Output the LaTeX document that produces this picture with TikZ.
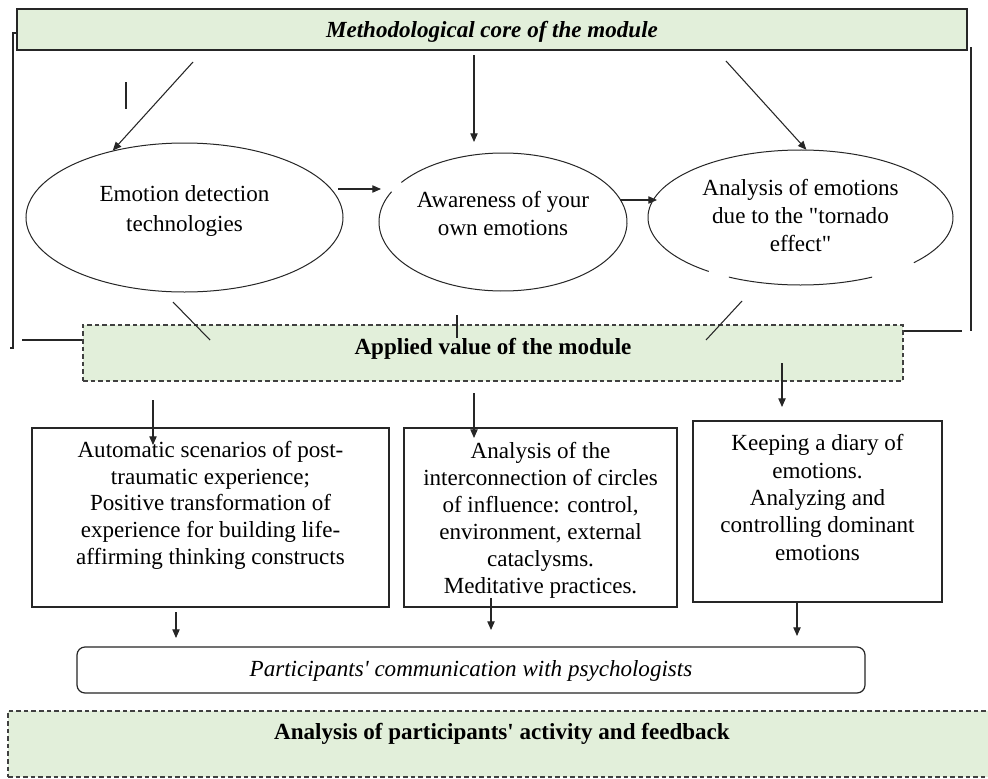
\documentclass[tikz,border=0pt]{standalone}
\usepackage{fontspec}
\setmainfont{Liberation Serif}[Ligatures=TeXOff]
\usetikzlibrary{arrows.meta,shapes.geometric}
\definecolor{panelgreen}{HTML}{E2EFDA}

% centred multi-line text; #3 is extra space below that lifts the block
\newcommand{\cardtext}[4]{\parbox{#1}{\centering\fontsize{17.3}{#2}\selectfont #4\par\vspace*{#3}}}
% same, but takes no width so the oval keeps its own size
\newcommand{\ovaltext}[4]{\makebox[0pt]{\cardtext{#1}{#2}{#3}{#4}}}

\begin{document}
\begin{tikzpicture}[x=0.75pt,y=-0.75pt,
  every node/.style={font=\fontsize{17.3}{20.3}\selectfont, text=black},
  wire/.style={draw=black!85, line width=0.8pt},
  arrowwire/.style={wire, -{Triangle[length=6.5pt,width=5.5pt]}},
  greenpanel/.style={draw=black!85, fill=panelgreen, line width=1.1pt, inner sep=0pt},
  dashedpanel/.style={draw=black!75, fill=panelgreen, line width=0.8pt,
    dash pattern=on 3.5pt off 2.2pt, inner sep=0pt},
  oval/.style={ellipse, inner sep=0pt},
  card/.style={draw=black!85, line width=0.9pt, inner sep=0pt}]

\fill[white] (0,0) rectangle (988,778);
\useasboundingbox (0,0) rectangle (988,778);

% ---- header panel ----
\node[greenpanel, minimum width=712.5pt, minimum height=30.75pt,
  text height=12pt, text depth=0pt,
  font=\fontsize{17.3}{20.3}\selectfont\bfseries\itshape] (core) at (492,29.5)
  {Methodological core of the module};

% ---- the three ovals ----
\node[oval, draw=black!85, line width=0.75pt, minimum width=237.75pt, minimum height=111.75pt]
  (e1) at (184.5,217.5) {\ovaltext{200pt}{22.5pt}{10.5pt}{Emotion detection\\technologies}};
\node[oval, minimum width=186pt, minimum height=103.5pt]
  (e2) at (503,222) {\ovaltext{180pt}{20.3pt}{12.75pt}{Awareness of your\\own emotions}};
\node[oval, minimum width=228.75pt, minimum height=101.25pt]
  (e3) at (800.5,217.5) {\ovaltext{200pt}{21pt}{3pt}{Analysis of emotions\\due to the "tornado\\effect"}};

% broken outlines of the second and third ovals
\draw[wire, line width=0.75pt] (e2.center) ++(215:124 and 69)
  arc[start angle=215, end angle=566, x radius=124, y radius=69];
\draw[wire, line width=0.75pt] (e3.center) ++(127:152.5 and 67.5)
  arc[start angle=127, end angle=402, x radius=152.5, y radius=67.5];
\draw[wire, line width=0.75pt] (e3.center) ++(62:152.5 and 67.5)
  arc[start angle=62, end angle=118, x radius=152.5, y radius=67.5];

% ---- applied value panel ----
\node[dashedpanel, minimum width=615pt, minimum height=42pt,
  text height=12pt, text depth=9.8pt,
  font=\fontsize{17.3}{20.3}\selectfont\bfseries] (applied) at (493,353)
  {Applied value of the module};

% ---- the three cards ----
\node[card, minimum width=267.75pt, minimum height=134.25pt] (cardA) at (210.5,517.5)
  {\cardtext{255pt}{20.1pt}{18.5pt}{Automatic scenarios of post-\\traumatic experience;\\Positive transformation of\\experience for building life-\\affirming thinking constructs}};
\node[card, minimum width=204.75pt, minimum height=134.25pt] (cardB) at (540.5,517.5)
  {\cardtext{195pt}{20.25pt}{-4.5pt}{Analysis of the\\interconnection of circles\\of influence: control,\\environment, external\\cataclysms.\\Meditative practices.}};
\node[card, minimum width=186.75pt, minimum height=135.75pt] (cardC) at (817.5,511.5)
  {\cardtext{180pt}{20.6pt}{21pt}{Keeping a diary of\\emotions.\\Analyzing and\\controlling dominant\\emotions}};

% ---- communication bar ----
\node[card, rounded corners=6pt, minimum width=591pt, minimum height=34.5pt,
  text height=12pt, text depth=1.8pt,
  font=\fontsize{17.3}{20.3}\selectfont\itshape] (talk) at (471,670)
  {Participants' communication with psychologists};

% ---- feedback panel ----
\node[dashedpanel, minimum width=741pt, minimum height=49.5pt,
  text height=12pt, text depth=18.5pt,
  font=\fontsize{17.3}{20.3}\selectfont\bfseries] (feedback) at (502,744)
  {Analysis of participants' activity and feedback};

% ---- side brackets ----
\coordinate (lbA) at (17,33);
\coordinate (lbB) at (13,33);
\coordinate (lbC) at (13,348);
\coordinate (lbD) at (10,348);
\draw[wire] (lbA) -- (lbB) -- (lbC) -- (lbD);
\coordinate (lbFoot) at (22,340);
\draw[wire] (lbFoot) -- (applied.west |- lbFoot);
\coordinate (rbTop) at (971,47);
\coordinate (rbBot) at (971,331);
\draw[wire] (rbTop) -- (rbBot);
\coordinate (rbFoot) at (962,331);
\draw[wire] (applied.east |- rbFoot) -- (rbFoot);
\coordinate (tickA) at (126,82);
\coordinate (tickB) at (126,109);
\draw[wire] (tickA) -- (tickB);

% ---- from the header to the ovals ----
\coordinate (c1) at (193,62);
\draw[arrowwire] (c1) -- (e1.137);
\coordinate (c2) at (474,55);
\coordinate (c2e) at (474,142);
\draw[arrowwire] (c2) -- (c2e);
\coordinate (c3) at (726,61);
\draw[arrowwire] (c3) -- (e3.85);

% ---- between the ovals ----
\coordinate (h1a) at (338,189);
\coordinate (h1b) at (381,189);
\draw[arrowwire] (h1a) -- (h1b);
\coordinate (h2a) at (620,200);
\coordinate (h2b) at (657,200);
\draw[arrowwire] (h2a) -- (h2b);

% ---- ovals down to the applied panel ----
\coordinate (d1a) at (173,302);
\coordinate (d1b) at (210,340);
\draw[wire] (d1a) -- (d1b);
\coordinate (d2a) at (457,315);
\coordinate (d2b) at (457,338);
\draw[wire] (d2a) -- (d2b);
\coordinate (d3a) at (742,301);
\coordinate (d3b) at (706,340);
\draw[wire] (d3a) -- (d3b);

% ---- applied panel to the cards ----
\coordinate (v1a) at (153,400);
\coordinate (v1b) at (153,445);
\draw[arrowwire] (v1a) -- (v1b);
\coordinate (v2a) at (474,393);
\coordinate (v2b) at (474,438);
\draw[arrowwire] (v2a) -- (v2b);
\coordinate (v3a) at (782,363);
\coordinate (v3b) at (782,407);
\draw[arrowwire] (v3a) -- (v3b);

% ---- cards to the communication bar ----
\coordinate (w1a) at (176,612);
\coordinate (w1b) at (176,638);
\draw[arrowwire] (w1a) -- (w1b);
\coordinate (w2a) at (491,598);
\coordinate (w2b) at (491,630);
\draw[arrowwire] (w2a) -- (w2b);
\coordinate (w3b) at (797,636);
\draw[arrowwire] (cardC.south -| w3b) -- (w3b);

\end{tikzpicture}
\end{document}
